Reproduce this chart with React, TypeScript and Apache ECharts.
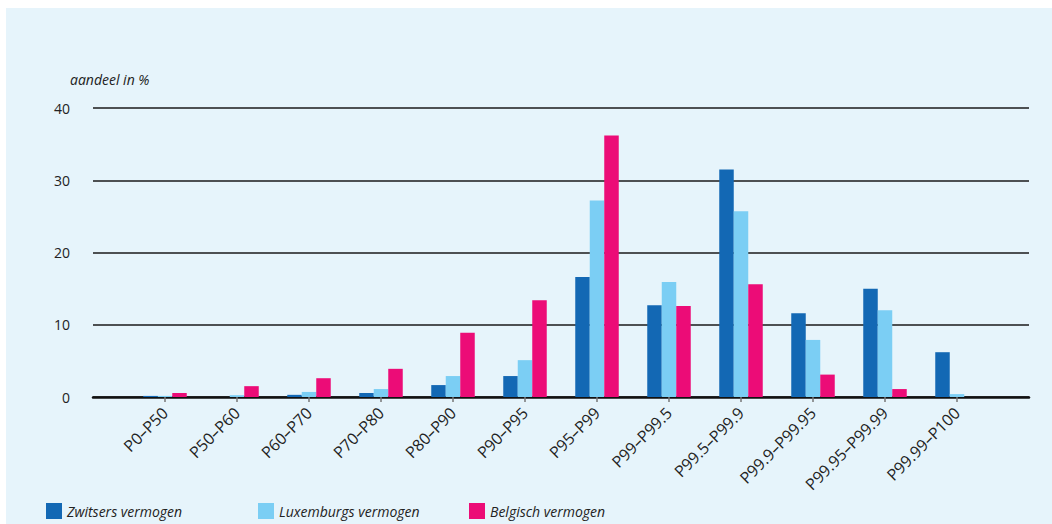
import React, { useEffect, useRef } from "react";
import * as echarts from "echarts";

const categories = [
  "P0–P50", "P50–P60", "P60–P70", "P70–P80", "P80–P90", "P90–P95",
  "P95–P99", "P99–P99.5", "P99.5–P99.9", "P99.9–P99.95", "P99.95–P99.99", "P99.99–P100",
];
const zwitsers = [0.15, 0, 0.3, 0.55, 1.65, 2.9, 16.6, 12.7, 31.5, 11.6, 15.0, 6.2];
const luxemburgs = [0.15, 0.25, 0.7, 1.1, 2.9, 5.1, 27.2, 15.9, 25.7, 7.9, 12.0, 0.4];
const belgisch = [0.55, 1.5, 2.6, 3.9, 8.9, 13.4, 36.2, 12.6, 15.6, 3.1, 1.1, 0];
const yTicks = [0, 10, 20, 30, 40];
const seriesNames = ["Zwitsers vermogen", "Luxemburgs vermogen", "Belgisch vermogen"];
const colors = ["#1368b4", "#7bcef4", "#ec0c77"];

const FONT = "'Open Sans', sans-serif";

export default function App() {
  const ref = useRef<HTMLDivElement>(null);
  useEffect(() => {
    if (!ref.current) return;
    const chart = echarts.init(ref.current, undefined, { renderer: "svg" });
    const padded = ["", ...categories, ""];
    const pad = (arr: number[]) => [null, ...arr, null];
    const data = [zwitsers, luxemburgs, belgisch];
    const legendLefts = [46, 258, 469];
    chart.setOption({
      animation: false,
      backgroundColor: "#ffffff",
      textStyle: { fontFamily: FONT },
      graphic: [
        {
          type: "rect",
          z: -10,
          silent: true,
          shape: { x: 6, y: 8, width: 1046, height: 516 },
          style: { fill: "#e6f4fb" },
        },
        {
          type: "text",
          left: 70,
          top: 72,
          style: {
            text: "aandeel in %",
            fontFamily: FONT,
            fontStyle: "italic",
            fontSize: 14,
            fill: "#222",
          },
        },
      ],
      grid: { left: 93, right: 23, top: 108, bottom: 127, containLabel: false },
      legend: seriesNames.map((n, i) => ({
        data: [n],
        left: legendLefts[i],
        top: 503,
        itemWidth: 16,
        itemHeight: 16,
        itemGap: 0,
        icon: "rect",
        padding: 0,
        textStyle: { fontFamily: FONT, fontStyle: "italic", fontSize: 14, color: "#222" },
      })),
      xAxis: {
        type: "category",
        data: padded,
        boundaryGap: false,
        axisLine: { lineStyle: { color: "#111", width: 2.5 } },
        axisTick: {
          alignWithLabel: true,
          length: 5,
          interval: (i: number) => i > 0 && i < padded.length - 1,
          lineStyle: { color: "#777", width: 1.5 },
        },
        axisLabel: {
          interval: 0,
          rotate: 45,
          margin: 13,
          fontFamily: FONT,
          fontSize: 16,
          color: "#222",
        },
        splitLine: { show: false },
      },
      yAxis: {
        type: "value",
        min: yTicks[0],
        max: yTicks[yTicks.length - 1],
        interval: 10,
        axisLine: { show: false },
        axisTick: { show: false },
        axisLabel: { margin: 23, fontFamily: FONT, fontSize: 14, color: "#222" },
        splitLine: { lineStyle: { color: "#1a1a1a", width: 1.5 } },
      },
      series: seriesNames.map((n, i) => ({
        name: n,
        type: "bar",
        data: pad(data[i]),
        barWidth: 14.5,
        barGap: "0%",
        itemStyle: { color: colors[i] },
      })),
    });
    return () => chart.dispose();
  }, []);
  return (
    <div
      ref={ref}
      style={{ position: "absolute", left: 0, top: 0, width: 1052, height: 524 }}
    />
  );
}
